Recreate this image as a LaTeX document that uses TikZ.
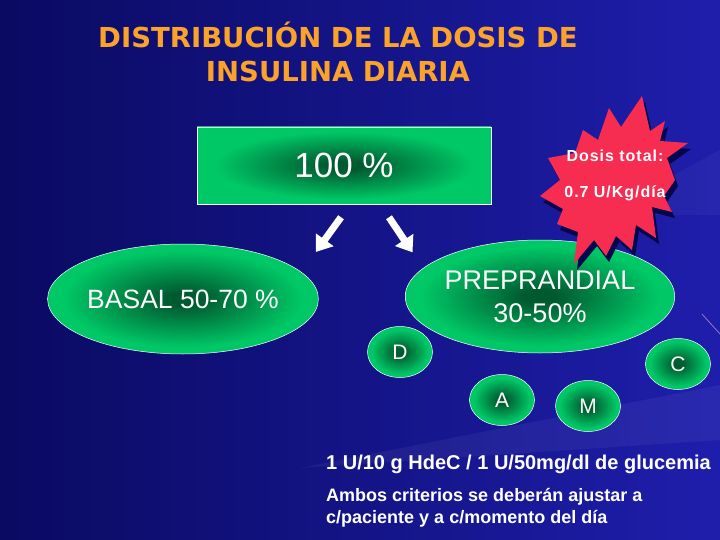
\documentclass[tikz,border=0pt]{standalone}
\usepackage{fontspec}
\setmainfont{Liberation Sans}
\newfontfamily\headfont{DejaVu Sans}
\usetikzlibrary{shapes.geometric, arrows.meta, positioning}
\definecolor{slidedark}{RGB}{10,10,98}
\definecolor{slidelight}{RGB}{30,30,172}
\definecolor{leafgreen}{RGB}{0,200,102}
\definecolor{deepgreen}{RGB}{0,90,48}
\definecolor{titleorange}{RGB}{250,162,42}
\definecolor{burstred}{RGB}{246,44,80}
\definecolor{burstshade}{RGB}{6,6,78}
\pgfdeclareradialshading{greenglow}{\pgfpoint{0bp}{0bp}}{color(0bp)=(deepgreen); color(3bp)=(deepgreen); color(22bp)=(leafgreen); color(50bp)=(leafgreen)}
\newcommand{\burstpath}{(642,96) -- (650,131) -- (665,121) -- (660,141) -- (688,143) -- (667,158) -- (675,180) -- (664,196) -- (672,212) -- (652,207) -- (656,238) -- (636,225) -- (632,250) -- (616,236) -- (606,256) -- (594,240) -- (574,264) -- (578,232) -- (557,224) -- (563,209) -- (540,196) -- (560,180) -- (548,158) -- (575,153) -- (583,130) -- (598,140) -- (609,108) -- (621,127) -- cycle}

\begin{document}
\begin{tikzpicture}[x=1pt, y=-1pt,
  blob/.style={ellipse, draw=white, line width=0.5pt, shade, shading=greenglow, text=white, inner sep=0pt, align=center},
  letterblob/.style={blob, minimum width=65pt, minimum height=51pt, font=\fontsize{21}{21}\selectfont},
  splitarrow/.style={white, line width=7pt, -{Triangle[width=21pt,length=15pt]}},
  burstlabel/.style={text=white, font=\fontsize{16}{16}\selectfont\bfseries\addfontfeature{LetterSpace=6}, anchor=base, inner sep=0pt},
  notelabel/.style={text=white, font=\bfseries, anchor=base west, inner sep=0pt, align=left}]
\useasboundingbox (0,0) rectangle (720,540);
% background
\shade[left color=slidedark, right color=slidelight] (0,0) rectangle (720,540);
\fill[white, opacity=0.05] (720,385) -- (300,468) -- (720,440) -- cycle;
\fill[white, opacity=0.04] (720,150) -- (600,215) -- (720,215) -- cycle;
\draw[violet!40!white, opacity=0.7, line width=0.8pt] (702,314) -- (720,334);

% title
\node[text=titleorange, font=\headfont\bfseries\fontsize{27.5}{34}\selectfont, align=center, anchor=base] (title) at (338,82) {DISTRIBUCIÓN DE LA DOSIS DE\\INSULINA DIARIA};

% total
\node[rectangle, draw=white, line width=0.5pt, shade, shading=greenglow, text=white, minimum width=294pt, minimum height=77pt, inner sep=0pt, font=\fontsize{35}{35}\selectfont] (total) at (344,165.5) {100 \%};

% split
\node[blob, minimum width=238pt, minimum height=110pt, font=\fontsize{26.5}{26.5}\selectfont] (basal) at (183,299) {BASAL 50-70 \%};
\node[blob, minimum width=236pt, minimum height=113pt, font=\fontsize{27}{33}\selectfont] (prandial) at (540,296.5) {PREPRANDIAL\\30-50\%};

\draw[splitarrow] ([shift={(-3,13)}]total.south) -- ([shift={(37,-8)}]basal.north east);
\draw[splitarrow] ([shift={(45,13)}]total.south) -- ([shift={(-32,-4)}]prandial.north west);

% meals
\node[letterblob] (desayuno) at (400,352) {D};
\node[letterblob] (almuerzo) at (502,400) {A};
\node[letterblob] (merienda) at (588,406) {M};
\node[letterblob] (cena) at (678,364) {C};

% dose burst
\fill[burstshade, shift={(3,6)}] \burstpath;
\fill[burstred] \burstpath;
\node[burstlabel] (dosis) at (615,162) {Dosis total:};
\node[burstlabel] (dosiskg) at (615,197) {0.7 U/Kg/día};

% notes
\node[notelabel, font=\bfseries\fontsize{20}{20}\selectfont] (ratio) at (326,469) {1 U/10 g HdeC / 1 U/50mg/dl de glucemia};
\node[notelabel, font=\bfseries\fontsize{18}{22}\selectfont] (criterio) at (326,523) {Ambos criterios se deberán ajustar a\\c/paciente y a c/momento del día};
\end{tikzpicture}
\end{document}
